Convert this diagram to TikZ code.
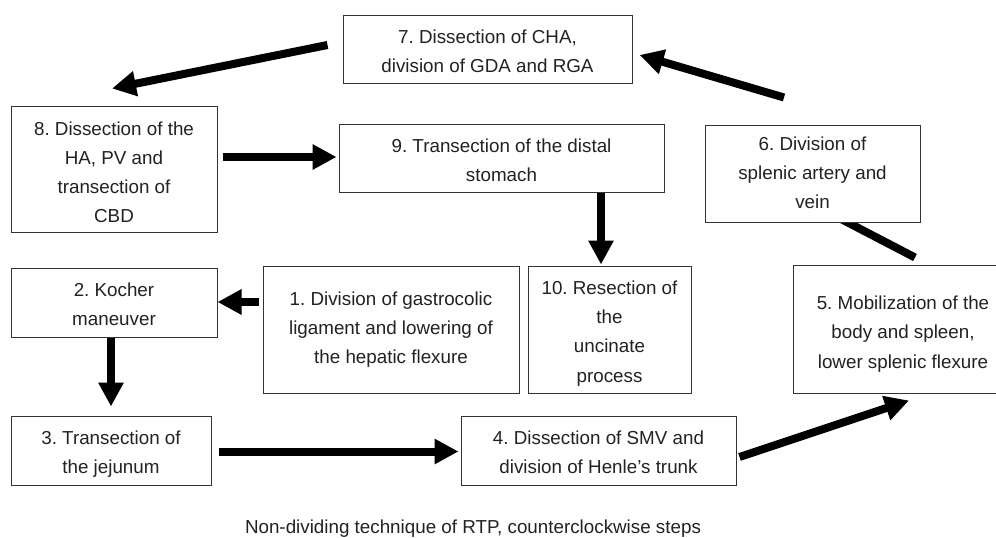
\documentclass[tikz,border=0pt]{standalone}
\usepackage{fontspec}
\setmainfont{Liberation Sans}
\usetikzlibrary{arrows.meta,calc,backgrounds}
\definecolor{txt}{HTML}{222222}
\frenchspacing
\newcommand\boxtext[4]{\parbox[c][#2][t]{#1}{\centering\vspace*{#3}\rule{0pt}{14pt}\ignorespaces#4\par}}
\begin{document}
\begin{tikzpicture}[x=1pt,y=-1pt,
  box/.style={draw=black!80, line width=1pt, fill=white, inner sep=0pt, text=txt,
    font=\fontsize{18.8}{29.3}\selectfont\frenchspacing},
  bigarrow/.style={line width=8pt, -{Triangle[length=24pt,width=24pt]}},
  thickline/.style={line width=8pt},
  caption/.style={text=txt, font=\fontsize{18.8}{22}\selectfont\frenchspacing, inner sep=0pt, anchor=base}]
\useasboundingbox (0,0) rectangle (996,538);
\clip (0,0) rectangle (996,538);

\node[box] (b7) at (487.5,49) {\boxtext{289pt}{68pt}{14.3pt}{7. Dissection of CHA,\\division of GDA and RGA}};
\node[box] (b8) at (114,169) {\boxtext{206pt}{126pt}{15pt}{8. Dissection of the\\HA, PV and\\transection of\\CBD}};
\node[box] (b9) at (501.5,158) {\boxtext{325pt}{68pt}{14.3pt}{9. Transection of the distal\\stomach}};
\node[box] (b6) at (812.5,173.5) {\boxtext{215pt}{97pt}{11.3pt}{6. Division of\\splenic artery and\\vein}};
\node[box] (b2) at (114,302.5) {\boxtext{206pt}{69pt}{14.3pt}{2. Kocher\\maneuver}};
\node[box] (b1) at (391,329.5) {\boxtext{256pt}{127pt}{25.3pt}{1. Division of gastrocolic\\ligament and lowering of\\the hepatic flexure}};
\node[box] (b10) at (609.5,329.5) {\boxtext{163pt}{127pt}{14.3pt}{10. Resection of\\the\\uncinate\\process}};
\node[box] (b5) at (903,329.5) {\boxtext{220pt}{128pt}{30pt}{5. Mobilization of the\\body and spleen,\\lower splenic flexure}};
\node[box] (b3) at (111,450.5) {\boxtext{200pt}{69pt}{14.3pt}{3. Transection of\\the jejunum}};
\node[box] (b4) at (598.5,450.5) {\boxtext{275pt}{69pt}{14.3pt}{4. Dissection of SMV and\\division of Henle’s trunk}};

\node[caption] (cap) at (473,533) {Non-dividing technique of RTP, counterclockwise steps};

\begin{scope}[on background layer]
\draw[thickline] ($(b5.north)+(12,-7.5)$) -- ($(b6.south)+(6.5,-15)$);
\end{scope}

\draw[bigarrow] ($(b7.west)+(-15,-4)$) -- ($(b8.north)+(-2,-17)$);
\draw[bigarrow] ($(b8.east)+(5,-12)$) -- ($(b9.west)+(-2,-1)$);
\draw[bigarrow] ($(b9.south)+(99.5,0)$) -- ($(b10.north)+(-8.5,-1)$);
\draw[bigarrow] ($(b6.north)+(-28.5,-27)$) -- ($(b7.east)+(7,6)$);
\draw[bigarrow] ($(b1.west)+(-4,-27.5)$) -- ($(b2.east)+(0,-0.5)$);
\draw[bigarrow] ($(b2.south)+(-3,0)$) -- ($(b3.north)+(0,-9)$);
\draw[bigarrow] ($(b3.east)+(7,1)$) -- ($(b4.west)+(-2,1)$);
\draw[bigarrow] ($(b4.east)+(3,6.5)$) -- ($(b5.south)+(6,6.5)$);
\end{tikzpicture}
\end{document}
